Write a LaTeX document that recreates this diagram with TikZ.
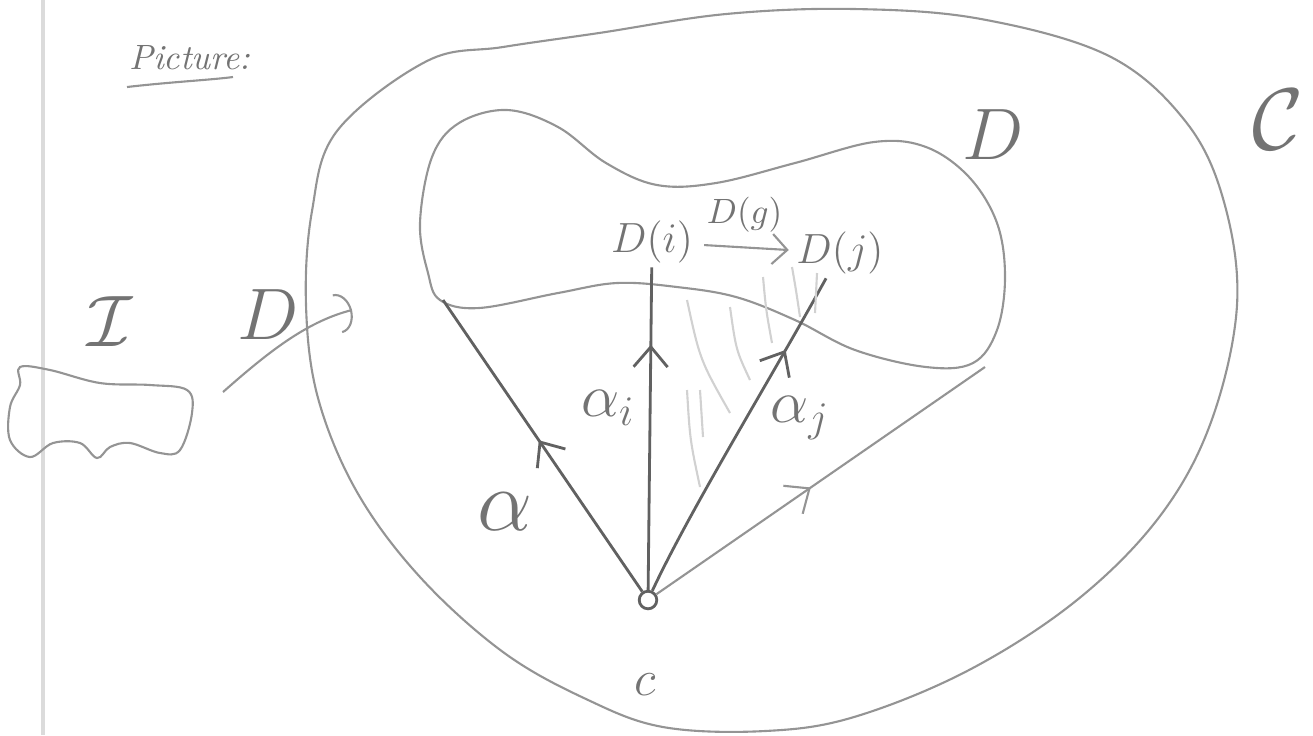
\documentclass[tikz,border=0pt]{standalone}
\usetikzlibrary{arrows.meta,decorations.markings}
\begin{document}
\begin{tikzpicture}[x=0.01cm,y=-0.01cm,
    pen/.style={draw=black!42,line width=0.6pt},
    leg/.style={draw=black!62,line width=0.8pt},
    hatch/.style={draw=black!18,line width=0.6pt},
    ink/.style={text=black!55,inner sep=1pt},
    midarrow/.style={postaction={decorate},decoration={markings,
      mark=at position #1 with {\arrow{Straight Barb[length=2mm,width=3.4mm]}}}}]
  \useasboundingbox (0,0) rectangle (1313,735);
  % margin of the sheet
  \draw[black!14,line width=1pt] (43,0) -- (43,735);
  % title
  \node[ink,font=\normalsize\itshape] (title) at (190,58) {Picture:};
  \draw[pen] (127,87) .. controls (170,82) and (210,80) .. (233,77);
  % index category I
  \draw[pen] plot[smooth cycle,tension=0.6] coordinates {(20,367) (50,370) (100,383)
    (150,385) (187,390) (192,413) (180,450) (160,453) (130,443) (110,447) (97,458)
    (80,443) (53,443) (30,457) (10,440) (10,407) (20,385)};
  \node[ink,font=\huge] (Ilbl) at (110,322) {$\mathcal{I}$};
  % the functor D
  \coordinate (Fstart) at (223,392);
  \coordinate (Fend) at (352,310);
  \draw[pen,-{Arc Barb[length=1.5mm,width=4mm]}] (Fstart) .. controls (265,355) and (305,322) .. (Fend);
  \node[ink,font=\huge] (Flbl) at (268,315) {$D$};
  % category C
  \draw[pen] plot[smooth cycle,tension=0.6] coordinates {(427,61) (337,131) (312,211)
    (306,305) (318,398) (357,492) (420,577) (503,652) (586,699) (663,727) (765,731)
    (854,717) (969,670) (1077,600) (1160,516) (1211,422) (1237,305) (1224,202)
    (1186,122) (1109,56) (981,19) (854,9) (726,14) (599,33) (503,47)};
  \node[ink,font=\fontsize{27}{30}\selectfont] (Clbl) at (1278,120) {$\mathcal{C}$};
  % image of D
  \draw[pen] plot[smooth cycle,tension=0.6] coordinates {(432,157) (459,123) (507,110)
    (558,127) (606,163) (657,185) (716,183) (795,163) (874,142) (926,147) (969,177)
    (997,223) (1005,277) (997,330) (973,363) (926,367) (855,350) (795,320) (736,297)
    (677,287) (617,283) (558,293) (479,308) (440,300) (428,273) (420,223)};
  \node[ink,font=\huge] (Dlbl) at (993,135) {$D$};
  \node[ink,font=\large] (Di) at (652,242) {$D(i)$};
  \node[ink,font=\large] (Dj) at (840,253) {$D(j)$};
  \draw[pen,-{Straight Barb[length=1.5mm,width=3mm]},shorten <=2pt,shorten >=1pt]
    (Di) -- node[ink,above=3pt] {$D(g)$} (Dj);
  % the cone
  \node[circle,draw=black!62,line width=0.8pt,inner sep=0pt,minimum size=5pt] (c) at (648,600) {};
  \node[ink,font=\Large] (clbl) at (645,685) {$c$};
  \coordinate (aend) at (443,300);
  \coordinate (rend) at (985,367);
  \draw[leg,midarrow=0.52] (c) -- (aend);
  \draw[leg,midarrow=0.76] (c) -- (Di);
  \draw[leg,midarrow=0.77] (c) .. controls (690,510) and (770,380) .. (Dj);
  \draw[pen,midarrow=0.47] (c) -- (rend);
  \node[ink,font=\Huge] (alpha) at (505,512) {$\alpha$};
  \node[ink,font=\LARGE] (ai) at (608,408) {$\alpha_i$};
  \node[ink,font=\LARGE] (aj) at (800,418) {$\alpha_j$};
  % commuting triangle
  \draw[hatch] (687,300) .. controls (700,360) .. (730,413);
  \draw[hatch] (730,307) .. controls (736,350) .. (750,380);
  \draw[hatch] (763,277) .. controls (766,310) .. (772,343);
  \draw[hatch] (792,267) .. controls (796,290) .. (800,317);
  \draw[hatch] (817,273) -- (815,313);
  \draw[hatch] (687,390) .. controls (690,440) .. (700,487);
  \draw[hatch] (700,390) -- (703,437);
\end{tikzpicture}
\end{document}
